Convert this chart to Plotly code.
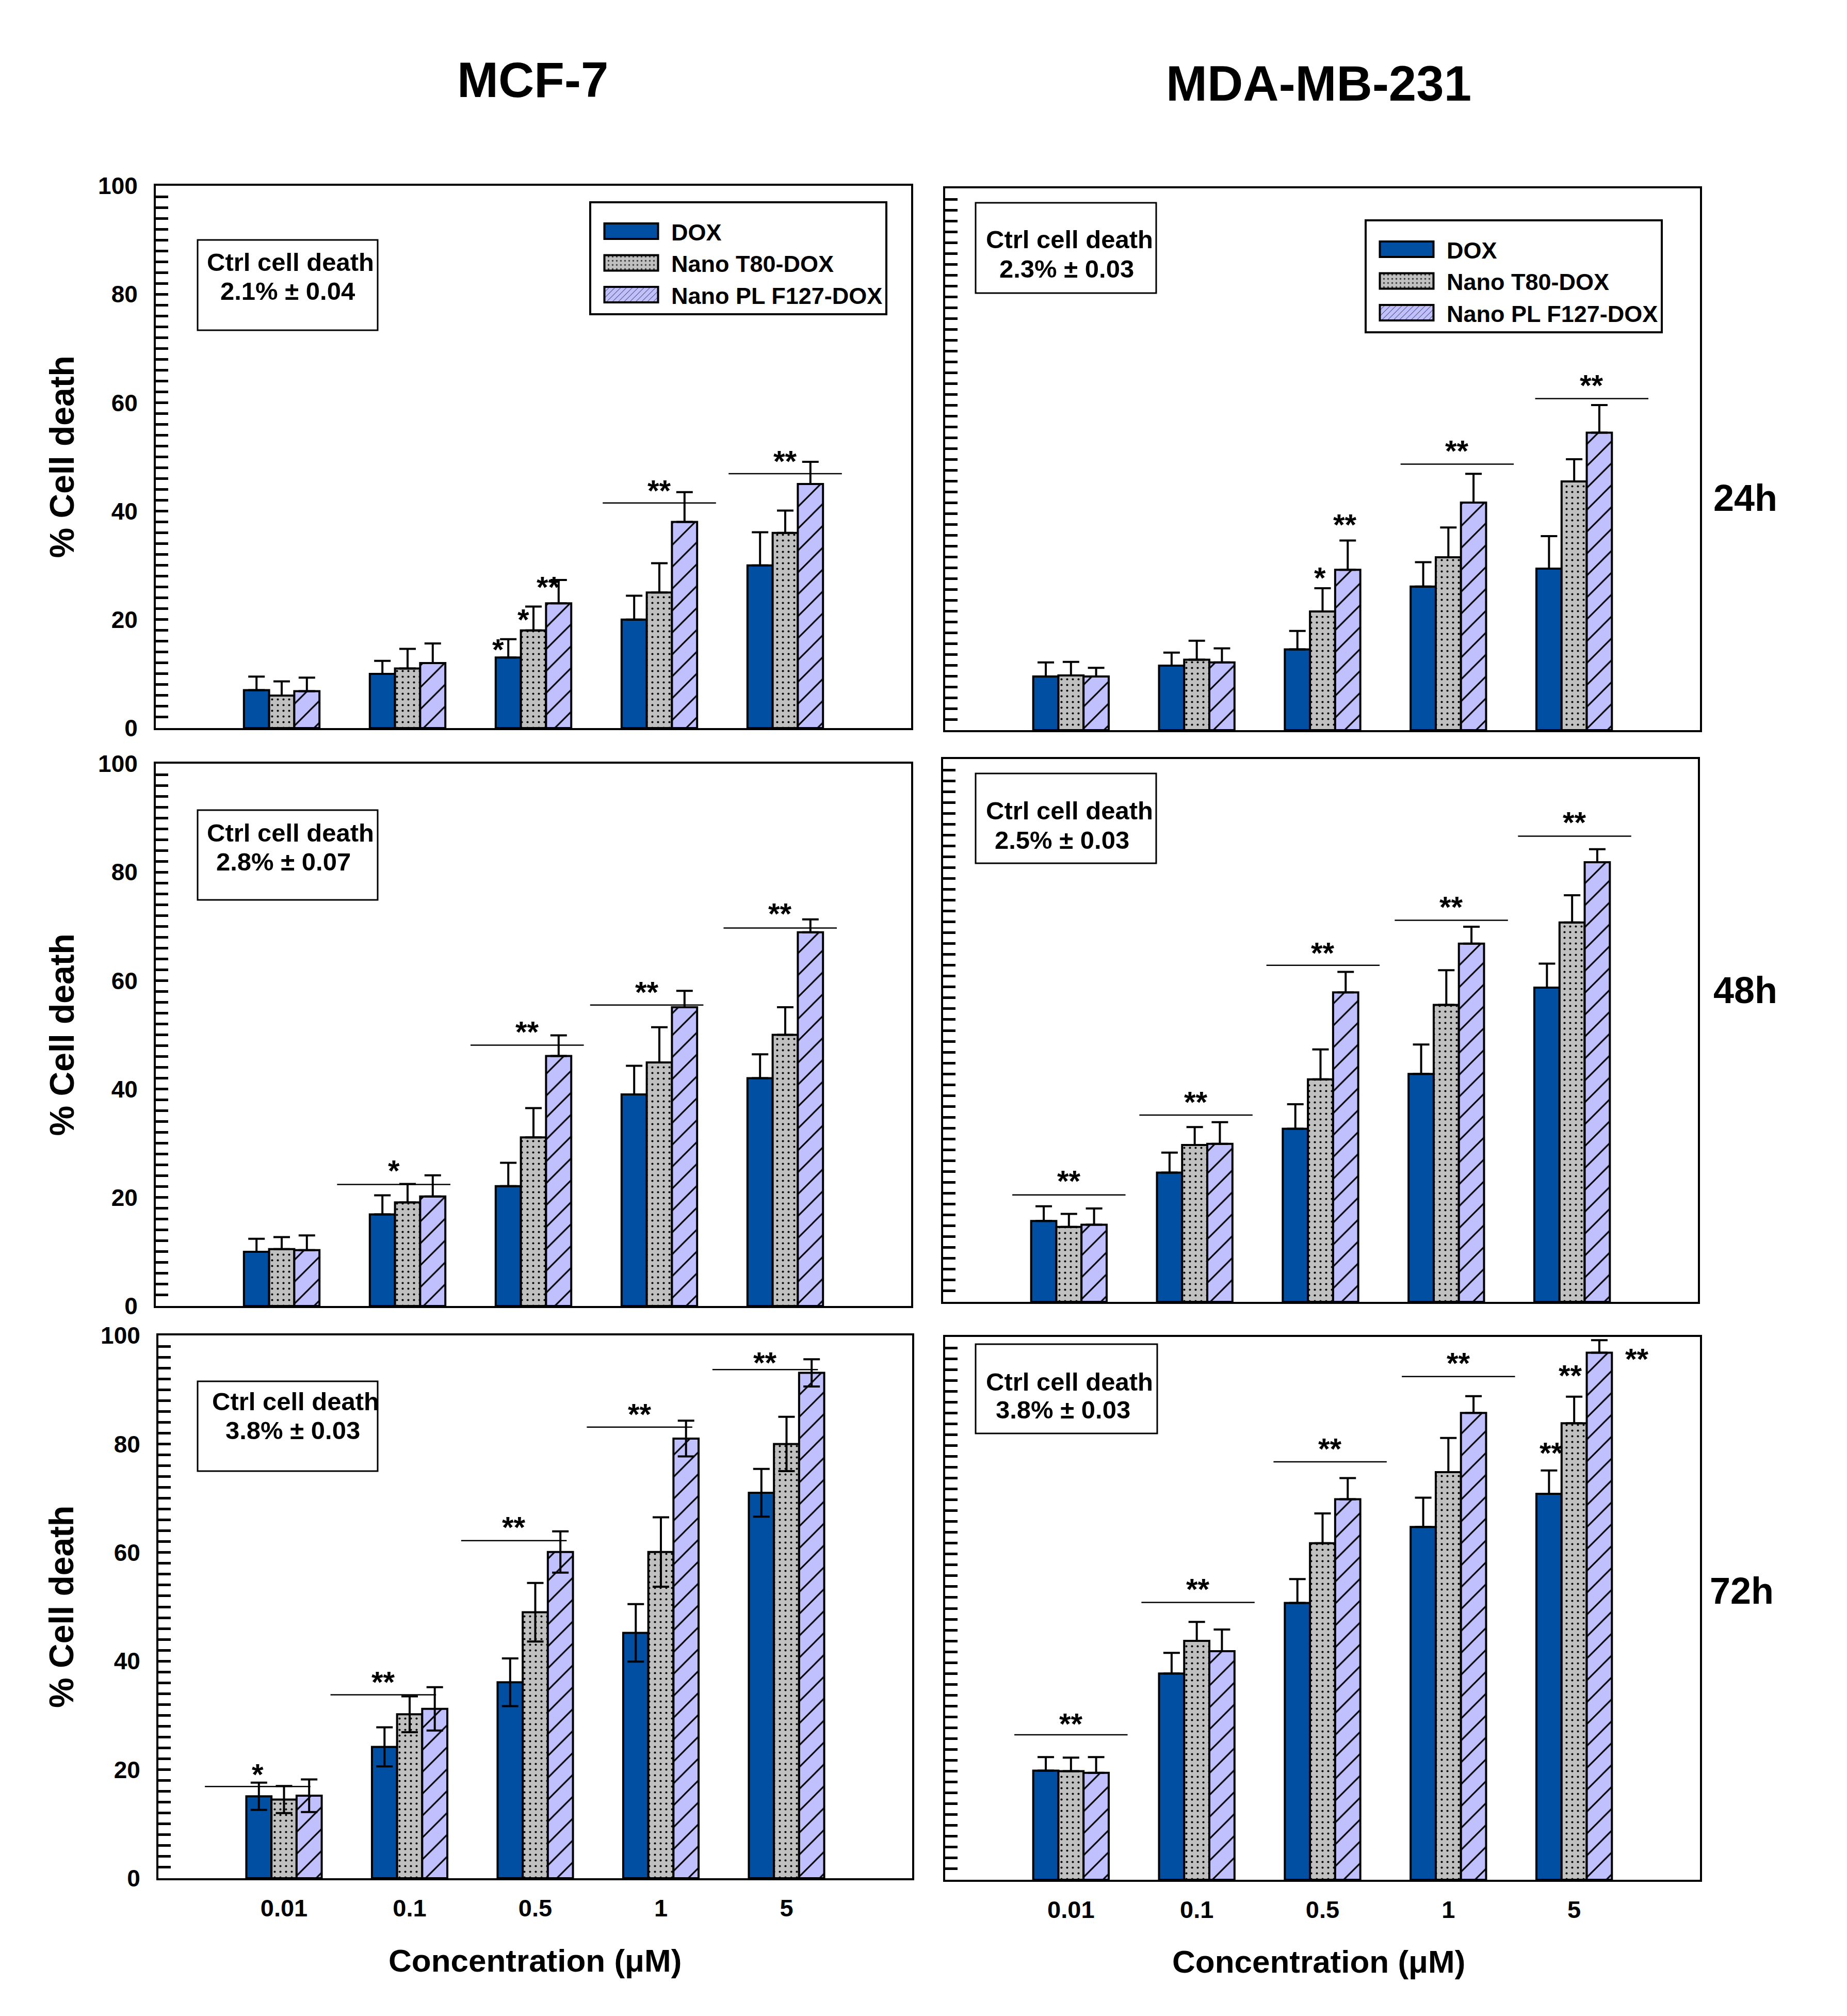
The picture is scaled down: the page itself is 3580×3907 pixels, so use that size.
import plotly.graph_objects as go

# ---------------- data ----------------
concentrations = ["0.01", "0.1", "0.5", "1", "5"]
series_names = ["DOX", "Nano T80-DOX", "Nano PL F127-DOX"]
cell_lines = ["MCF-7", "MDA-MB-231"]
times = ["24h", "48h", "72h"]
ctrl_title = "Ctrl cell death"
ctrl_death = [["2.1% ± 0.04", "2.3% ± 0.03"],
              ["2.8% ± 0.07", "2.5% ± 0.03"],
              ["3.8% ± 0.03", "3.8% ± 0.03"]]

# MCF-7, 24h
mcf7_24_dox = [7.0, 10.0, 13.0, 20.0, 30.0]
mcf7_24_dox_err = [2.5, 2.4, 3.4, 4.4, 6.1]
mcf7_24_t80 = [6.0, 11.0, 18.0, 25.0, 36.0]
mcf7_24_t80_err = [2.6, 3.6, 4.4, 5.4, 4.1]
mcf7_24_f127 = [6.8, 12.0, 23.0, 38.0, 45.0]
mcf7_24_f127_err = [2.5, 3.6, 4.3, 5.5, 4.1]
# MDA-MB-231, 24h
mda_24_dox = [9.9, 11.9, 14.9, 26.5, 29.8]
mda_24_dox_err = [2.6, 2.4, 3.4, 4.5, 6.0]
mda_24_t80 = [10.1, 13.0, 21.9, 31.9, 45.9]
mda_24_t80_err = [2.5, 3.5, 4.3, 5.5, 4.1]
mda_24_f127 = [9.9, 12.5, 29.6, 42.0, 54.9]
mda_24_f127_err = [1.6, 2.6, 5.4, 5.3, 5.1]
# MCF-7, 48h
mcf7_48_dox = [10.0, 16.9, 22.1, 39.0, 42.0]
mcf7_48_dox_err = [2.4, 3.5, 4.3, 5.3, 4.4]
mcf7_48_t80 = [10.5, 19.1, 31.1, 44.9, 50.0]
mcf7_48_t80_err = [2.2, 3.4, 5.4, 6.5, 5.1]
mcf7_48_f127 = [10.3, 20.2, 46.1, 55.1, 68.9]
mcf7_48_f127_err = [2.7, 3.9, 3.8, 3.0, 2.4]
# MDA-MB-231, 48h
mda_48_dox = [14.9, 23.8, 31.9, 42.0, 57.9]
mda_48_dox_err = [2.7, 3.7, 4.5, 5.4, 4.4]
mda_48_t80 = [13.8, 28.9, 41.0, 54.7, 69.9]
mda_48_t80_err = [2.4, 3.3, 5.5, 6.4, 5.0]
mda_48_f127 = [14.2, 29.1, 57.0, 66.0, 81.0]
mda_48_f127_err = [3.0, 4.0, 3.8, 3.1, 2.4]
# MCF-7, 72h
mcf7_72_dox = [15.1, 24.2, 36.1, 45.2, 71.0]
mcf7_72_dox_err = [2.5, 3.6, 4.4, 5.3, 4.4]
mcf7_72_t80 = [14.5, 30.2, 49.0, 60.1, 80.0]
mcf7_72_t80_err = [2.5, 3.3, 5.4, 6.4, 5.0]
mcf7_72_f127 = [15.2, 31.2, 60.1, 81.0, 93.1]
mcf7_72_f127_err = [3.0, 4.0, 3.8, 3.3, 2.5]
# MDA-MB-231, 72h
mda_72_dox = [20.1, 38.0, 51.0, 65.0, 71.1]
mda_72_dox_err = [2.5, 3.8, 4.4, 5.4, 4.3]
mda_72_t80 = [20.0, 44.0, 62.0, 75.1, 84.1]
mda_72_t80_err = [2.5, 3.5, 5.5, 6.3, 4.9]
mda_72_f127 = [19.7, 42.1, 70.1, 86.0, 97.1]
mda_72_f127_err = [2.9, 4.0, 3.9, 3.1, 2.3]

# significance marks: concentration index, offset, bracket level (None = no bracket), star level, label
mcf7_24_sig_group = [2, 2, 2, 3, 4]
mcf7_24_sig_dx = [-0.28, -0.08, 0.12, 0.0, 0.0]
mcf7_24_sig_line = [None, None, None, 41.5, 46.9]
mcf7_24_sig_star = [15.4, 20.9, 26.9, 44.7, 50.1]
mcf7_24_sig_text = ["*", "*", "**", "**", "**"]

mda_24_sig_group = [2, 2, 3, 4]
mda_24_sig_dx = [-0.02, 0.18, 0.07, 0.14]
mda_24_sig_line = [None, None, 49.1, 61.2]
mda_24_sig_star = [29.0, 38.8, 52.4, 64.5]
mda_24_sig_text = ["*", "**", "**", "**"]

mcf7_48_sig_group = [1, 2, 3, 4]
mcf7_48_sig_dx = [-0.11, -0.05, -0.1, -0.04]
mcf7_48_sig_line = [22.4, 48.1, 55.5, 69.7]
mcf7_48_sig_star = [25.8, 51.4, 58.8, 73.2]
mcf7_48_sig_text = ["*", "**", "**", "**"]

mda_48_sig_group = [0, 1, 2, 3, 4]
mda_48_sig_dx = [0.0, 0.01, 0.02, 0.04, 0.02]
mda_48_sig_line = [19.7, 34.4, 62.0, 70.3, 85.8]
mda_48_sig_star = [23.1, 37.7, 65.2, 73.6, 89.2]
mda_48_sig_text = ["**", "**", "**", "**", "**"]

mcf7_72_sig_group = [0, 1, 2, 3, 4]
mcf7_72_sig_dx = [-0.21, -0.21, -0.17, -0.17, -0.17]
mcf7_72_sig_line = [16.9, 33.8, 62.2, 83.1, 93.7]
mcf7_72_sig_star = [20.0, 37.0, 65.5, 86.4, 95.9]
mcf7_72_sig_text = ["*", "**", "**", "**", "**"]

mda_72_sig_group = [0, 1, 2, 3, 4, 4, 4]
mda_72_sig_dx = [0.0, 0.01, 0.06, 0.08, -0.18, -0.03, 0.5]
mda_72_sig_line = [26.7, 51.1, 77.0, 92.7, None, None, None]
mda_72_sig_star = [29.6, 54.4, 80.3, 96.1, 79.5, 93.8, 96.8]
mda_72_sig_text = ["**", "**", "**", "**", "**", "**", "**"]

panels = [
    [
        dict(vals=[mcf7_24_dox, mcf7_24_t80, mcf7_24_f127],
             errs=[mcf7_24_dox_err, mcf7_24_t80_err, mcf7_24_f127_err],
             sig=(mcf7_24_sig_group, mcf7_24_sig_dx, mcf7_24_sig_line, mcf7_24_sig_star, mcf7_24_sig_text)),
        dict(vals=[mda_24_dox, mda_24_t80, mda_24_f127],
             errs=[mda_24_dox_err, mda_24_t80_err, mda_24_f127_err],
             sig=(mda_24_sig_group, mda_24_sig_dx, mda_24_sig_line, mda_24_sig_star, mda_24_sig_text)),
    ],
    [
        dict(vals=[mcf7_48_dox, mcf7_48_t80, mcf7_48_f127],
             errs=[mcf7_48_dox_err, mcf7_48_t80_err, mcf7_48_f127_err],
             sig=(mcf7_48_sig_group, mcf7_48_sig_dx, mcf7_48_sig_line, mcf7_48_sig_star, mcf7_48_sig_text)),
        dict(vals=[mda_48_dox, mda_48_t80, mda_48_f127],
             errs=[mda_48_dox_err, mda_48_t80_err, mda_48_f127_err],
             sig=(mda_48_sig_group, mda_48_sig_dx, mda_48_sig_line, mda_48_sig_star, mda_48_sig_text)),
    ],
    [
        dict(vals=[mcf7_72_dox, mcf7_72_t80, mcf7_72_f127],
             errs=[mcf7_72_dox_err, mcf7_72_t80_err, mcf7_72_f127_err],
             sig=(mcf7_72_sig_group, mcf7_72_sig_dx, mcf7_72_sig_line, mcf7_72_sig_star, mcf7_72_sig_text)),
        dict(vals=[mda_72_dox, mda_72_t80, mda_72_f127],
             errs=[mda_72_dox_err, mda_72_t80_err, mda_72_f127_err],
             sig=(mda_72_sig_group, mda_72_sig_dx, mda_72_sig_line, mda_72_sig_star, mda_72_sig_text)),
    ],
]

# ---------------- layout helpers ----------------
PAGE_W, PAGE_H = 3580, 3907
BODY = 8  # default page margin around the plot div
W, H = PAGE_W - 2 * BODY, PAGE_H - 2 * BODY
FONT = "Liberation Sans, Arial, Helvetica, sans-serif"

# panel pixel boxes on the page (left, right, top, bottom)
boxes = [
    [(302, 1766, 360, 1411), (1832, 3295, 365, 1415)],
    [(302, 1766, 1480, 2531), (1828, 3291, 1471, 2523)],
    [(307, 1768, 2588, 3640), (1832, 3295, 2591, 3643)],
]
# control-death boxes (left, right, top, bottom) and their two text line centres
ctrl_boxes = [
    [(383, 732, 465, 640), (1891, 2241, 393, 568)],
    [(383, 732, 1570, 1744), (1891, 2241, 1499, 1673)],
    [(383, 732, 2677, 2851), (1891, 2243, 2605, 2778)],
]
ctrl_lines = [
    [((563, 511), (557, 567)), ((2073, 467), (2067, 524))],
    [((563, 1617), (549, 1673)), ((2073, 1574), (2058, 1631))],
    [((573, 2719), (567, 2775)), ((2073, 2681), (2060, 2735))],
]
time_pos = [(3383, 965), (3383, 1919), (3376, 3083)]

def px(x):
    return (x - BODY) / W

def py(y):
    return 1 - (y - BODY) / H

colors = ["#004FA3", "#C0C0C0", "#C0C0FF"]
patterns = [
    dict(shape=""),
    dict(shape=".", fgcolor="black", fgopacity=1, size=11, solidity=0.11),
    dict(shape="/", fgcolor="black", fgopacity=1, size=30, solidity=0.1),
]

fig = go.Figure()
xs = list(range(len(concentrations)))
annotations = []
shapes = []

for r in range(3):
    for c in range(2):
        k = r * 2 + c + 1
        xa = "x" if k == 1 else f"x{k}"
        ya = "y" if k == 1 else f"y{k}"
        p = panels[r][c]
        symmetric = (r == 2 and c == 0)
        for s in range(3):
            errs = p["errs"][s]
            fig.add_trace(go.Bar(
                x=xs, y=p["vals"][s], name=series_names[s],
                marker=dict(color=colors[s], line=dict(color="black", width=4),
                            pattern=patterns[s]),
                error_y=dict(type="data", array=errs,
                             arrayminus=errs if symmetric else [0] * len(errs),
                             symmetric=False, color="black", thickness=4, width=16),
                xaxis=xa, yaxis=ya,
                showlegend=(k in (1, 2)),
                legend="legend" if k != 2 else "legend2",
            ))
        l, rgt, t, b = boxes[r][c]
        fig.layout[("xaxis" if k == 1 else f"xaxis{k}")] = dict(
            domain=[px(l), px(rgt)], range=[-1, 5], anchor=ya, automargin=False,
            tickvals=xs, ticktext=concentrations,
            showticklabels=(r == 2), ticks="",
            tickfont=dict(family=FONT, size=47, color="black", weight="bold"),
            ticklabelstandoff=14,
            showline=True, mirror=True, linecolor="black", linewidth=4,
            showgrid=False, zeroline=False,
        )
        fig.layout[("yaxis" if k == 1 else f"yaxis{k}")] = dict(
            domain=[py(b), py(t)], range=[0, 100], anchor=xa, automargin=False,
            tick0=0, dtick=20, ticks="inside", ticklen=24, tickwidth=5, tickcolor="black",
            minor=dict(dtick=2, ticks="inside", ticklen=24, tickwidth=5, tickcolor="black", showgrid=False),
            showticklabels=(c == 0),
            tickfont=dict(family=FONT, size=46, color="black", weight="bold"),
            ticklabelstandoff=22,
            showline=True, mirror=True, linecolor="black", linewidth=4,
            showgrid=False, zeroline=False,
        )
        # significance marks
        g, dx, ly, sy, txt = p["sig"]
        half = 0.42 if symmetric else 0.45
        for i in range(len(g)):
            xc = g[i] + dx[i]
            if ly[i] is not None:
                shapes.append(dict(type="line", xref=xa, yref=ya,
                                   x0=xc - half, x1=xc + half, y0=ly[i], y1=ly[i],
                                   line=dict(color="black", width=2.5)))
            annotations.append(dict(xref=xa, yref=ya, x=xc, y=sy[i], text=f"<b>{txt[i]}</b>",
                                    showarrow=False, xanchor="center", yanchor="middle", yshift=-9,
                                    font=dict(family=FONT, size=58, color="black")))
        # control box
        bl, br, bt, bb = ctrl_boxes[r][c]
        shapes.append(dict(type="rect", xref="paper", yref="paper",
                           x0=px(bl), x1=px(br), y0=py(bb), y1=py(bt),
                           line=dict(color="black", width=3), fillcolor="white", layer="above"))
        for j, line_text in enumerate([ctrl_title, ctrl_death[r][c]]):
            lx, lyy = ctrl_lines[r][c][j]
            annotations.append(dict(xref="paper", yref="paper", x=px(lx), y=py(lyy),
                                    text=f"<b>{line_text}</b>", showarrow=False,
                                    xanchor="center", yanchor="middle", yshift=3,
                                    font=dict(family=FONT, size=49, color="black")))
    # time label
    tx, ty = time_pos[r]
    annotations.append(dict(xref="paper", yref="paper", x=px(tx), y=py(ty), text=f"<b>{times[r]}</b>",
                            showarrow=False, xanchor="center", yanchor="middle",
                            font=dict(family=FONT, size=72, color="black")))
    # y title
    l, rgt, t, b = boxes[r][0]
    annotations.append(dict(xref="paper", yref="paper", x=px(119), y=py((t + b) / 2),
                            text="<b>% Cell death</b>", textangle=-90,
                            showarrow=False, xanchor="center", yanchor="middle",
                            font=dict(family=FONT, size=66, color="black")))

# column titles and x titles
for c, (tx, ty) in enumerate([(1032, 154), (2556, 162)]):
    annotations.append(dict(xref="paper", yref="paper", x=px(tx), y=py(ty), text=f"<b>{cell_lines[c]}</b>",
                            showarrow=False, xanchor="center", yanchor="middle",
                            font=dict(family=FONT, size=96, color="black")))
for tx, ty in [(1037, 3799), (2556, 3801)]:
    annotations.append(dict(xref="paper", yref="paper", x=px(tx), y=py(ty), text="<b>Concentration (μM)</b>",
                            showarrow=False, xanchor="center", yanchor="middle",
                            font=dict(family=FONT, size=62, color="black")))

legend_style = dict(xanchor="left", yanchor="top", bordercolor="black", borderwidth=4, bgcolor="white",
                    font=dict(family=FONT, size=45, color="black", weight="bold"),
                    itemwidth=145, tracegroupgap=0,
                    title=dict(text=" ", font=dict(size=14)))

fig.update_layout(
    width=W, height=H, margin=dict(l=0, r=0, t=0, b=0, autoexpand=False),
    paper_bgcolor="white", plot_bgcolor="white",
    barmode="group", bargap=0.4, bargroupgap=0,
    annotations=annotations, shapes=shapes,
    legend=dict(x=px(1142), y=py(390), **legend_style),
    legend2=dict(x=px(2645), y=py(425), **legend_style),
)

# widen the legend keys to the wide rectangular swatches of the original figure
widen_keys = """
var gd = document.getElementById('{plot_id}');
function widenKeys() {
    var paths = gd.querySelectorAll('g.legendpoints path');
    for (var i = 0; i < paths.length; i++) {
        paths[i].setAttribute('d', 'M52,15H-52V-15H52Z');
    }
}
widenKeys();
if (gd.on) { gd.on('plotly_afterplot', widenKeys); }
setTimeout(widenKeys, 200);
setTimeout(widenKeys, 1000);
setTimeout(widenKeys, 2500);
"""

fig.write_html("out.html", post_script=widen_keys, config={"responsive": False})
